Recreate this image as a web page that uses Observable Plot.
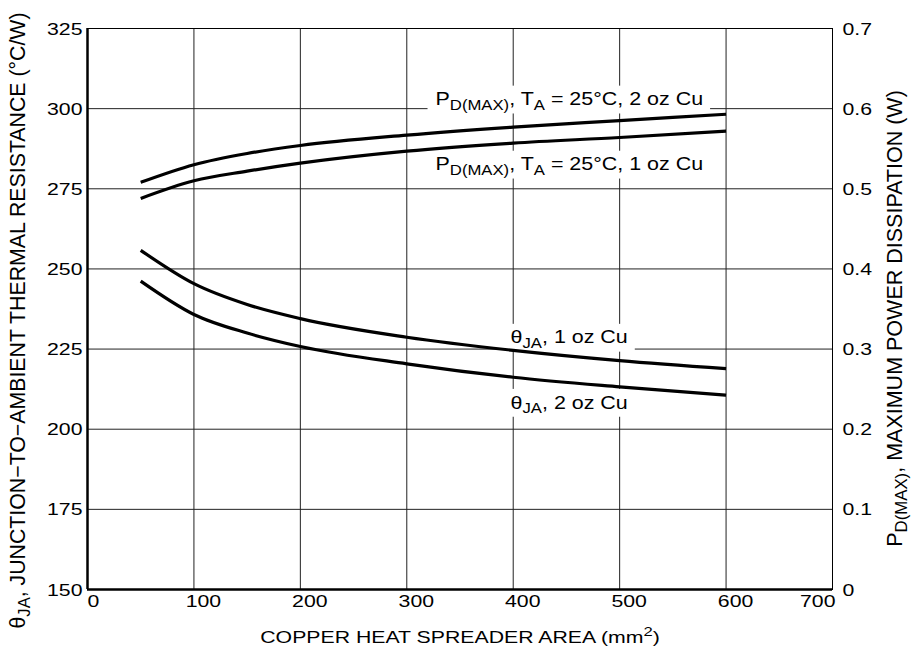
<!DOCTYPE html>
<html>
<head>
<meta charset="utf-8">
<script src="https://cdn.jsdelivr.net/npm/d3@7"></script>
<script src="https://cdn.jsdelivr.net/npm/@observablehq/plot@0.6"></script>
<style>
  html, body { margin: 0; padding: 0; background: white; }
</style>
</head>
<body>
<div id="chart"></div>
<script>
// ---- data ----
const areaX = [50, 100, 150, 200, 300, 400, 500, 600];          // copper area, mm²
const thetaJA1oz = [255.8, 245.4, 238.9, 234.5, 228.7, 224.6, 221.4, 218.9]; // °C/W
const thetaJA2oz = [246.2, 235.8, 230.0, 225.8, 220.4, 216.2, 213.2, 210.6]; // °C/W
const pdMax1oz = [0.488, 0.510, 0.522, 0.532, 0.547, 0.557, 0.564, 0.572];   // W
const pdMax2oz = [0.508, 0.530, 0.544, 0.554, 0.567, 0.577, 0.585, 0.593];   // W

const xTicks = [0, 100, 200, 300, 400, 500, 600, 700];
const yLeftTicks = [150, 175, 200, 225, 250, 275, 300, 325];
const yRightTicks = [0, 0.1, 0.2, 0.3, 0.4, 0.5, 0.6, 0.7];
const yRightTickLabels = ["0", "0.1", "0.2", "0.3", "0.4", "0.5", "0.6", "0.7"];

const xTitle = "COPPER HEAT SPREADER AREA (mm^{2})";
const yLeftTitle = "θ_{JA}, JUNCTION−TO−AMBIENT THERMAL RESISTANCE (°C/W)";
const yRightTitle = "P_{D(MAX)}, MAXIMUM POWER DISSIPATION (W)";

const curveLabelText = [
  "P_{D(MAX)}, T_{A} = 25°C, 2 oz Cu",
  "P_{D(MAX)}, T_{A} = 25°C, 1 oz Cu",
  "θ_{JA}, 1 oz Cu",
  "θ_{JA}, 2 oz Cu"
];
const curveLabelX = [327, 327, 397.5, 397.5];
const curveLabelY = [302.9, 282.6, 228.6, 208.3];

// right axis (W) mapped onto left axis (°C/W): 0 W ↔ 150, 0.7 W ↔ 325
const pdToLeft = w => 150 + w * 250;

const rows = (vals, map = v => v) => areaX.map((x, i) => ({x, v: map(vals[i])}));
const series = [
  rows(thetaJA1oz), rows(thetaJA2oz),
  rows(pdMax1oz, pdToLeft), rows(pdMax2oz, pdToLeft)
];
const labels = curveLabelText.map((t, i) => ({t, x: curveLabelX[i], y: curveLabelY[i]}));

const font = "'Liberation Sans', Arial, Helvetica, sans-serif";

const chart = Plot.plot({
  width: 912,
  height: 654,
  marginLeft: 87,
  marginRight: 80,
  marginTop: 28,
  marginBottom: 65,
  x: {domain: [0, 700], axis: null},
  y: {domain: [150, 325], axis: null},
  style: {fontFamily: font, background: "white", color: "black"},
  marks: [
    Plot.ruleX(xTicks.filter(v => v > 0 && v < 700), {x: d => d, stroke: "#222", strokeWidth: 1}),
    Plot.ruleY(yLeftTicks.filter(v => v > 150 && v < 325), {y: d => d, stroke: "#222", strokeWidth: 1}),
    Plot.frame({stroke: "#000", strokeWidth: 1}),
    Plot.ruleX([0], {x: d => d, stroke: "#000", strokeWidth: 2.5}),
    Plot.ruleY([150], {y: d => d, stroke: "#000", strokeWidth: 2.5}),
    ...series.map(s => Plot.line(s, {x: "x", y: "v", curve: "monotone-x", stroke: "#000", strokeWidth: 3.2, strokeLinecap: "butt"})),
    // x tick labels
    Plot.text([xTicks[0]], {x: d => d, text: d => String(d), frameAnchor: "bottom", dy: 17.5, textAnchor: "start", fontSize: 16, fill: "#000"}),
    Plot.text(xTicks.slice(1, -1), {x: d => d, text: d => String(d), frameAnchor: "bottom", dy: 17.5, dx: 9.5, textAnchor: "middle", fontSize: 16, fill: "#000"}),
    Plot.text(xTicks.slice(-1), {x: d => d, text: d => String(d), frameAnchor: "bottom", dy: 17.5, dx: 3, textAnchor: "end", fontSize: 16, fill: "#000"}),
    // left y tick labels
    Plot.text(yLeftTicks, {y: d => d, text: d => String(d), frameAnchor: "left", textAnchor: "end", dx: -5, dy: 1, fontSize: 16, fill: "#000"}),
    // right y tick labels
    Plot.text(yRightTicks, {y: d => pdToLeft(d), text: (d, i) => yRightTickLabels[i], frameAnchor: "right", textAnchor: "start", dx: 10, dy: 1, fontSize: 16, fill: "#000"}),
    // axis titles
    Plot.text([xTitle], {text: d => d, frameAnchor: "bottom", textAnchor: "middle", dy: 53, fontSize: 16, fill: "#000"}),
    Plot.text([yLeftTitle], {text: d => d, frameAnchor: "left", textAnchor: "middle", rotate: -90, dx: -69.5, dy: 11.5, fontSize: 21.3, fill: "#000"}),
    Plot.text([yRightTitle], {text: d => d, frameAnchor: "right", textAnchor: "middle", rotate: -90, dx: 62.5, dy: 9.5, fontSize: 21.5, fill: "#000"}),
    // curve labels
    Plot.text(labels, {x: "x", y: "y", text: "t", textAnchor: "start", fontSize: 18.5, fill: "#000"})
  ]
});

document.getElementById("chart").append(chart);

// ---- classify texts by content ----
const tickStrings = new Set([...xTicks.map(String), ...yLeftTicks.map(String), ...yRightTickLabels]);
const stretchOf = new Map();
const labelEls = [];
chart.querySelectorAll("text").forEach(el => {
  const s = el.textContent;
  if (tickStrings.has(s)) stretchOf.set(el, 1.33);
  else if (s === xTitle) stretchOf.set(el, 1.33);
  else if (curveLabelText.includes(s)) { stretchOf.set(el, 1.16); labelEls.push(el); }
});

// ---- rich text: subscripts _{..} and superscripts ^{..} ----
const NS = "http://www.w3.org/2000/svg";
chart.querySelectorAll("text").forEach(el => {
  const s = el.textContent;
  if (!/[_^]\{/.test(s)) return;
  const fs = parseFloat(getComputedStyle(el).fontSize) || 16;
  const parts = s.split(/([_^]\{[^}]*\})/).filter(p => p);
  el.textContent = "";
  let shift = 0;
  parts.forEach(p => {
    const ts = document.createElementNS(NS, "tspan");
    let target = 0, txt = p, small = false;
    if (p.startsWith("_{")) { target = 0.24 * fs; txt = p.slice(2, -1); small = true; }
    else if (p.startsWith("^{")) { target = -0.38 * fs; txt = p.slice(2, -1); small = true; }
    ts.setAttribute("dy", (target - shift).toFixed(2));
    shift = target;
    if (small) ts.setAttribute("font-size", (0.78 * fs).toFixed(1) + "px");
    ts.textContent = txt;
    el.appendChild(ts);
  });
});

// ---- horizontal stretch of the lettering, as in the reference ----
stretchOf.forEach((sx, el) => {
  const xa = el.getAttribute("x");
  let pre = "";
  if (xa && !isNaN(+xa) && +xa !== 0) { el.removeAttribute("x"); pre = ` translate(${xa},0)`; }
  const t = el.getAttribute("transform") || "";
  el.setAttribute("transform", `${t}${pre} scale(${sx},1)`);
});

// ---- white boxes behind curve labels (above grid, below curves) ----
const svgRect = chart.getBoundingClientRect();
const boxG = document.createElementNS(NS, "g");
labelEls.forEach(el => {
  const b = el.getBoundingClientRect();
  const r = document.createElementNS(NS, "rect");
  r.setAttribute("x", b.left - svgRect.left - 8);
  r.setAttribute("y", b.top - svgRect.top - 3);
  r.setAttribute("width", b.width + 15);
  r.setAttribute("height", b.height + 4);
  r.setAttribute("fill", "white");
  boxG.appendChild(r);
});
const firstLine = chart.querySelector('g[aria-label="line"]');
if (firstLine) chart.insertBefore(boxG, firstLine); else chart.appendChild(boxG);
</script>
</body>
</html>
